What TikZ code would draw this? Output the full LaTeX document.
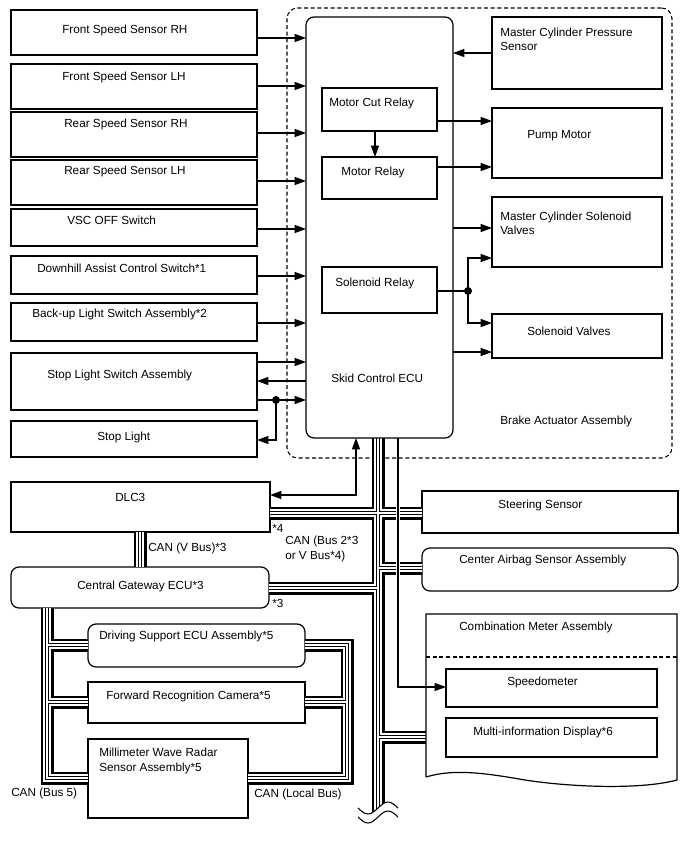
\documentclass[tikz,border=0pt]{standalone}
\usepackage{fontspec}
\setmainfont{Liberation Sans}
\usetikzlibrary{arrows.meta}
\newcommand\bx[6][]{\node[box,#1,minimum width={(#4-#2)*0.75pt},minimum height={(#5-#3)*0.75pt}] (#6) at ({(#2+#4)/2},{(#3+#5)/2}) {};}
\newcommand\busset[1]{%
 \draw[#1] (378,438) -- (378,830);
 \draw[#1] (dlc.east |- 0,513) -- (steer.west |- 0,513);
 \draw[#1] (cgw.east |- 0,588) -- (378,588);
 \draw[#1] (378,568) -- (airbag.west |- 0,568);
 \draw[#1] (378,737) -- (cmsw |- 0,737);
 \draw[#1] (dlc.south -| 140,0) -- (cgw.north -| 140,0);
 \draw[#1] (cgw.south -| 47,0) -- (47,778) -- (mwr.west |- 0,778);
 \draw[#1] (47,645) -- (dss.west |- 0,645);
 \draw[#1] (47,702) -- (frc.west |- 0,702);
 \draw[#1] (dss.east |- 0,645) -- (347,645) -- (347,778) -- (mwr.east |- 0,778);
 \draw[#1] (347,702) -- (frc.east |- 0,702);
}
\begin{document}
\begin{tikzpicture}[x=0.75pt,y=-0.75pt,
  box/.style={draw=black, line width=0.9pt, inner sep=0pt, outer sep=0pt},
  rbox/.style={rounded corners=6pt},
  dbox/.style={dash pattern=on 3pt off 2pt, line width=0.8pt, rounded corners=8pt},
  lbl/.style={anchor=west, inner sep=0pt, font=\fontsize{8.8pt}{10.6pt}\selectfont, align=left},
  arr/.style={line width=0.8pt, -{Triangle[length=8.5pt,width=6pt]}},
  darr/.style={line width=0.8pt, {Triangle[length=8.5pt,width=6pt]}-{Triangle[length=8.5pt,width=6pt]}},
  wire/.style={line width=0.8pt},
  dot/.style={circle, fill=black, inner sep=0pt, minimum size=6pt},
  line cap=butt, line join=miter
]
\useasboundingbox (0,0) rectangle (688,852);

% outer dashed assembly
\bx[dbox]{287}{8}{672}{458}{baa}

% left column
\bx{11}{10}{257}{55}{fsrh}
\bx{11}{64}{257}{109}{fslh}
\bx{11}{112}{257}{157}{rsrh}
\bx{11}{160}{257}{205}{rslh}
\bx{11}{209}{257}{246}{vsc}
\bx{11}{256}{257}{294}{dac}
\bx{11}{303}{257}{341}{bul}
\bx{11}{353}{257}{410}{sls}
\bx{11}{421}{257}{457}{sl}

% lower
\bx{11}{482}{270}{532}{dlc}
\bx[rbox]{11}{567}{269}{608}{cgw}
\bx{422}{491}{678}{533}{steer}
\bx[rbox]{422}{548}{678}{591}{airbag}
\bx[rbox]{88}{624}{305}{667}{dss}
\bx{88}{682}{305}{723}{frc}
\bx{88}{739}{248}{818}{mwr}
\bx{446}{669}{657}{707}{speedo}
\bx{446}{718}{657}{757}{mid}

% combination meter outline
\coordinate (cmnw) at (426,614);
\coordinate (cmne) at (677,614);
\coordinate (cmse) at (677,780);
\coordinate (cmsw) at (426,777);

% CAN buses (layered)
\busset{line width=9.75pt, black}
\busset{line width=6pt, white}
\busset{line width=3pt, black}
\busset{line width=1.5pt, white}

% wavy break of trunk
\fill[white] (356,808) -- (358,808) sin (368,814) cos (378,808) sin (388,802) cos (398,808) -- (400,808) -- (400,845) -- (356,845) -- cycle;
\draw[wire] (358,808) sin (368,814) cos (378,808) sin (388,802) cos (398,808);
\draw[wire] (358,817) sin (368,823) cos (378,817) sin (388,811) cos (398,817);

% speedometer signal line (bridging over the buses)
\draw[white, line width=3.5pt] (398,500) -- (398,582);
\draw[arr] (398,438) -- (398,687) -- (speedo.west |- 0,687);

\draw[line width=0.9pt] (cmsw) -- (cmnw) -- (cmne) -- (cmse) .. controls (640,790) and (570,787) .. (525,780) .. controls (490,774) and (455,768) .. (cmsw);
\draw[dash pattern=on 3pt off 2pt, line width=0.8pt] (cmnw |- 0,657) -- (cmne |- 0,657);

% ECU and actuator parts
\bx[rbox]{306}{17}{453}{438}{ecu}
\bx{492}{17}{662}{89}{mcps}
\bx{322}{88}{437}{131}{mcr}
\bx{322}{157}{437}{199}{mr}
\bx{492}{108}{662}{178}{pump}
\bx{492}{197}{662}{267}{mcsv}
\bx{322}{267}{437}{313}{sr}
\bx{492}{314}{662}{358}{sv}

% signal arrows into the ECU
\draw[arr] (fsrh.east |- 0,38) -- (ecu.west |- 0,38);
\draw[arr] (fslh.east |- 0,86) -- (ecu.west |- 0,86);
\draw[arr] (rsrh.east |- 0,133) -- (ecu.west |- 0,133);
\draw[arr] (rslh.east |- 0,181) -- (ecu.west |- 0,181);
\draw[arr] (vsc.east |- 0,229) -- (ecu.west |- 0,229);
\draw[arr] (dac.east |- 0,276) -- (ecu.west |- 0,276);
\draw[arr] (bul.east |- 0,323) -- (ecu.west |- 0,323);
\draw[arr] (sls.east |- 0,362) -- (ecu.west |- 0,362);
\draw[arr] (ecu.west |- 0,381) -- (sls.east |- 0,381);
\node[dot] (d1) at (276,400) {};
\draw[arr] (sls.east |- 0,400) -- (ecu.west |- 0,400);
\draw[arr] (d1.center) -- (276,440) -- (sl.east |- 0,440);

\draw[arr] (mcps.west |- 0,53) -- (ecu.east |- 0,53);
\draw[arr] (mcr.east |- 0,121) -- (pump.west |- 0,121);
\draw[arr] (mr.east |- 0,167) -- (pump.west |- 0,167);
\draw[arr] (mcr.south -| 375,0) -- (mr.north -| 375,0);
\draw[arr] (ecu.east |- 0,228) -- (mcsv.west |- 0,228);
\node[dot] (d2) at (468,291) {};
\draw[wire] (sr.east |- 0,291) -- (d2.center);
\draw[arr] (d2.center) -- (468,258) -- (mcsv.west |- 0,258);
\draw[arr] (d2.center) -- (468,323) -- (sv.west |- 0,323);
\draw[arr] (ecu.east |- 0,352) -- (sv.west |- 0,352);
\draw[darr] (dlc.east |- 0,495) -- (356,495) -- (ecu.south -| 356,0);

% labels
\node[lbl] (t1) at (62,30) {Front Speed Sensor RH};
\node[lbl] (t2) at (62,77) {Front Speed Sensor LH};
\node[lbl] (t3) at (64,124) {Rear Speed Sensor RH};
\node[lbl] (t4) at (64,171) {Rear Speed Sensor LH};
\node[lbl] (t5) at (67,220) {VSC OFF Switch};
\node[lbl] (t6) at (37,268) {Downhill Assist Control Switch*1};
\node[lbl] (t7) at (32,314) {Back-up Light Switch Assembly*2};
\node[lbl] (t8) at (47,375) {Stop Light Switch Assembly};
\node[lbl] (t9) at (97,437) {Stop Light};
\node[lbl] (t10) at (329,103) {Motor Cut Relay};
\node[lbl] (t11) at (341,172) {Motor Relay};
\node[lbl] (t12) at (335,283) {Solenoid Relay};
\node[lbl] (t13) at (331,378) {Skid Control ECU};
\node[lbl] (t14) at (500,39) {Master Cylinder Pressure\\Sensor};
\node[lbl] (t15) at (527,136) {Pump Motor};
\node[lbl] (t16) at (500,223) {Master Cylinder Solenoid\\Valves};
\node[lbl] (t17) at (527,331) {Solenoid Valves};
\node[lbl] (t18) at (500,421) {Brake Actuator Assembly};
\node[lbl] (t19) at (115,497) {DLC3};
\node[lbl] (t20) at (498,505) {Steering Sensor};
\node[lbl] (t21) at (459,560) {Center Airbag Sensor Assembly};
\node[lbl] (t22) at (272,528) {*4};
\node[lbl] (t23) at (285,549) {CAN (Bus 2*3\\or V Bus*4)};
\node[lbl] (t24) at (148,548) {CAN (V Bus)*3};
\node[lbl] (t25) at (77,586) {Central Gateway ECU*3};
\node[lbl] (t26) at (272,603) {*3};
\node[lbl] (t27) at (459,627) {Combination Meter Assembly};
\node[lbl] (t28) at (99,636) {Driving Support ECU Assembly*5};
\node[lbl] (t29) at (106,696) {Forward Recognition Camera*5};
\node[lbl] (t30) at (507,682) {Speedometer};
\node[lbl] (t31) at (473,732) {Multi-information Display*6};
\node[lbl] (t32) at (99,761) {Millimeter Wave Radar\\Sensor Assembly*5};
\node[lbl] (t33) at (11,793) {CAN (Bus 5)};
\node[lbl] (t34) at (254,794) {CAN (Local Bus)};
\end{tikzpicture}
\end{document}
